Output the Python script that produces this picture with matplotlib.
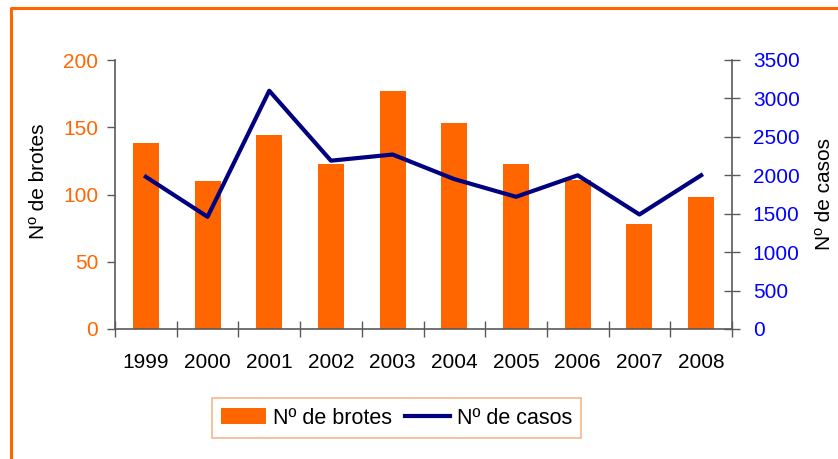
import matplotlib
matplotlib.use("Agg")
import matplotlib.pyplot as plt
from matplotlib.lines import Line2D
import numpy as np

plt.rcParams['font.family'] = ['Liberation Sans', 'DejaVu Sans']

years = ['1999', '2000', '2001', '2002', '2003', '2004', '2005', '2006', '2007', '2008']
brotes = [138, 110, 144, 123, 177, 153, 123, 111, 78, 98]
casos = [1980, 1460, 3100, 2190, 2270, 1950, 1720, 2000, 1490, 2000]
left_ticks = [0, 50, 100, 150, 200]
right_ticks = [0, 500, 1000, 1500, 2000, 2500, 3000, 3500]

W, H = 838, 459
fig = plt.figure(figsize=(W / 100, H / 100), dpi=100)
ax = fig.add_axes([115 / W, 1 - 329 / H, (732 - 115) / W, (329 - 60) / H])
ax2 = ax.twinx()

x = np.arange(len(years))
axis_col = '#5a5a5a'
orange = '#FF6600'
navy = '#000080'

bars = ax.bar(x, brotes, width=0.42, color=orange, zorder=2, label='Nº de brotes')
ax.set_xlim(-0.5, len(years) - 0.5)
ax.set_ylim(0, 200)
ax.set_yticks(left_ticks)
ax.set_yticklabels([str(t) for t in left_ticks])
ax.tick_params(axis='y', colors=axis_col, labelcolor=orange, labelsize=15,
               direction='out', length=6, width=1, pad=6)
ax.set_xticks(np.arange(len(years) + 1) - 0.5, minor=False)
ax.set_xticklabels([''] * (len(years) + 1))
ax.set_xticks(x, minor=True)
ax.set_xticklabels(years, minor=True)
ax.tick_params(axis='x', which='major', direction='inout', length=12, width=1, colors=axis_col)
ax.tick_params(axis='x', which='minor', length=0, labelsize=15, labelcolor='black', pad=17)

line, = ax2.plot(x, casos, color=navy, linewidth=3, label='Nº de casos', zorder=3)
ax2.set_ylim(0, 3500)
ax2.set_yticks(right_ticks)
ax2.set_yticklabels([str(t) for t in right_ticks])
ax2.tick_params(axis='y', colors=axis_col, labelcolor='#0000FF', labelsize=15,
                direction='inout', length=12, width=1, pad=9)

for a in (ax, ax2):
    a.spines['top'].set_visible(False)
    for s in ('left', 'right', 'bottom'):
        a.spines[s].set_color(axis_col)
        a.spines[s].set_linewidth(1.2)
ax.spines['right'].set_visible(False)
ax2.spines['left'].set_visible(False)
ax2.spines['bottom'].set_visible(False)

fig.text(38 / W, 1 - 181 / H, 'Nº de brotes', rotation=90, ha='center', va='center', fontsize=15)
fig.text(824 / W, 1 - 194 / H, 'Nº de casos', rotation=90, ha='center', va='center', fontsize=15)

leg = fig.legend([bars, line], ['Nº de brotes', 'Nº de casos'], loc='center',
                 bbox_to_anchor=((207 + 586) / 2 / W, 1 - 418 / H), ncol=2, fontsize=15.5,
                 frameon=True, fancybox=False, handlelength=2.1, handletextpad=0.3,
                 columnspacing=0.6, borderpad=0.45)
leg.get_frame().set_edgecolor('#F4A470')
leg.get_frame().set_linewidth(1.2)

# outer orange frame (partially visible)
fig.add_artist(Line2D([11 / W, 11 / W, 1.0], [0.0, 1 - 8 / H, 1 - 8 / H],
                      transform=fig.transFigure, color=orange, linewidth=2.2))

fig.savefig('out.png', dpi=100)
